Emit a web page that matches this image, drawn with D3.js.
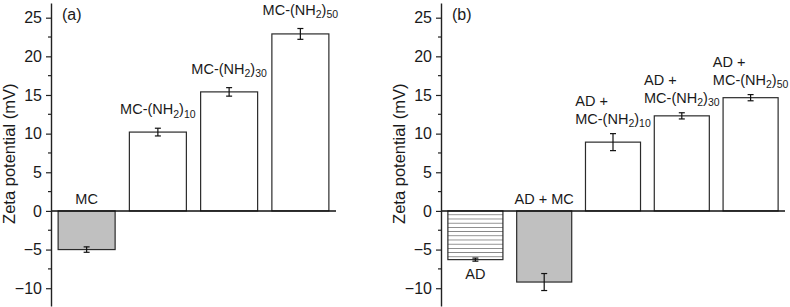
<!DOCTYPE html>
<html>
<head>
<meta charset="utf-8">
<script src="https://cdn.jsdelivr.net/npm/d3@7"></script>
<style>
  body { margin: 0; background: #fff; }
  text { font-family: Arial, "Liberation Sans", sans-serif; fill: #1a1a1a; }
</style>
</head>
<body>
<svg id="chart" width="790" height="307"></svg>
<script>
// Data. {x} marks a subscript.
const categoriesA = ["MC", "MC-(NH{2}){10}", "MC-(NH{2}){30}", "MC-(NH{2}){50}"];
const valuesA = [-5.0, 10.2, 15.4, 22.9];
const errorsA = [0.35, 0.5, 0.55, 0.7];

const categoriesB = ["AD", "AD + MC", "AD +|MC-(NH{2}){10}", "AD +|MC-(NH{2}){30}", "AD +|MC-(NH{2}){50}"];
const valuesB = [-6.3, -9.2, 8.9, 12.3, 14.65];
const errorsB = [0.2, 1.1, 1.1, 0.4, 0.4];

const yTicks = [-10, -5, 0, 5, 10, 15, 20, 25];
const yMinorTicks = [-7.5, -2.5, 2.5, 7.5, 12.5, 17.5, 22.5];

const svg = d3.select("#chart");

// hatch pattern for the AD bar
svg.append("defs").append("pattern")
    .attr("id", "hatch")
    .attr("patternUnits", "userSpaceOnUse")
    .attr("width", 8)
    .attr("height", 4.2)
    .attr("y", 211)
    .call(p => {
        p.append("rect").attr("width", 8).attr("height", 4.2).attr("fill", "#fff");
        p.append("line").attr("x1", 0).attr("x2", 8).attr("y1", 4.2).attr("y2", 4.2)
            .attr("stroke", "#222").attr("stroke-width", 1);
    });

const y = d3.scaleLinear().domain([-12.3, 26.9]).range([306, 3]);

// writes a label, turning {..} parts into subscripts
function addLabel(g, str, x, yBase, anchor) {
    const t = g.append("text")
        .attr("x", x)
        .attr("y", yBase)
        .attr("text-anchor", anchor)
        .style("font-size", "14.5px");
    let shifted = false;
    str.split(/(\{[^}]*\})/).filter(s => s).forEach(part => {
        if (part.startsWith("{")) {
            t.append("tspan").attr("dy", shifted ? 0 : 3.5)
                .style("font-size", "10.5px").text(part.slice(1, -1));
            shifted = true;
        } else {
            t.append("tspan").attr("dy", shifted ? -3.5 : 0).text(part);
            shifted = false;
        }
    });
    return t;
}

function drawPanel(opts) {
    const { left, right, cats, vals, errs, fills, sides, tag } = opts;
    const g = svg.append("g");

    const x = d3.scaleBand()
        .domain(cats)
        .range([left, right])
        .paddingInner(0.2)
        .paddingOuter(0.1);

    // bars
    g.selectAll("rect.bar")
        .data(vals)
        .join("rect")
        .attr("class", "bar")
        .attr("x", (d, i) => x(cats[i]))
        .attr("width", x.bandwidth())
        .attr("y", d => y(Math.max(0, d)))
        .attr("height", d => Math.abs(y(d) - y(0)))
        .attr("fill", (d, i) => fills[i])
        .attr("stroke", "#2b2b2b")
        .attr("stroke-width", 1.2);

    // error bars
    vals.forEach((d, i) => {
        const cx = x(cats[i]) + x.bandwidth() / 2;
        const eb = g.append("g").attr("stroke", "#111").attr("stroke-width", 1.2);
        eb.append("line").attr("x1", cx).attr("x2", cx)
            .attr("y1", y(d + errs[i])).attr("y2", y(d - errs[i]));
        [d + errs[i], d - errs[i]].forEach(v => {
            eb.append("line").attr("x1", cx - 3).attr("x2", cx + 3)
                .attr("y1", y(v)).attr("y2", y(v));
        });
    });

    // zero line
    g.append("line")
        .attr("x1", left).attr("x2", right)
        .attr("y1", y(0)).attr("y2", y(0))
        .attr("stroke", "#111").attr("stroke-width", 1.4);

    // y axis
    const ax = g.append("g")
        .attr("transform", `translate(${left},0)`)
        .call(d3.axisLeft(y).tickValues(yTicks).tickSize(5).tickSizeOuter(0).tickPadding(4));
    ax.select(".domain").attr("stroke", "#222").attr("stroke-width", 1.4);
    ax.selectAll(".tick line").attr("stroke", "#222").attr("stroke-width", 1.2);
    ax.selectAll(".tick text").style("font-size", "16px").style("font-family", "Arial, 'Liberation Sans', sans-serif").attr("fill", "#1a1a1a");
    ax.selectAll(".minor")
        .data(yMinorTicks)
        .join("line")
        .attr("class", "minor")
        .attr("x1", -3).attr("x2", 0)
        .attr("y1", d => y(d)).attr("y2", d => y(d))
        .attr("stroke", "#222").attr("stroke-width", 1.2);

    // axis title
    g.append("text")
        .attr("transform", `translate(${left - 36},${y(7.4)}) rotate(-90)`)
        .attr("text-anchor", "middle")
        .style("font-size", "16.5px")
        .text("Zeta potential (mV)");

    // panel tag
    g.append("text")
        .attr("x", left + 11)
        .attr("y", 20)
        .style("font-size", "16px")
        .text(tag);

    // bar labels
    cats.forEach((c, i) => {
        const cx = x(c) + x.bandwidth() / 2;
        const lines = c.split("|");
        const v = vals[i];
        if (sides[i] === "below") {
            addLabel(g, lines[0], cx, y(v - errs[i]) + 18, "middle");
        } else if (v < 0) {
            addLabel(g, lines[0], cx, y(0) - 7, "middle");
        } else if (lines.length === 1) {
            addLabel(g, lines[0], cx, y(v + errs[i]) - 14, "middle");
        } else {
            const base = y(v + errs[i]) - 10;
            const second = addLabel(g, lines[1], cx, base, "start");
            const w = second.node().getComputedTextLength();
            const sx = cx - w / 2;
            second.attr("x", sx);
            addLabel(g, lines[0], sx, base - 18, "start");
        }
    });
}

drawPanel({
    left: 51, right: 336,
    cats: categoriesA, vals: valuesA, errs: errorsA,
    fills: ["#c0c0c0", "#fff", "#fff", "#fff"],
    sides: ["above", "above", "above", "above"],
    tag: "(a)"
});

drawPanel({
    left: 441, right: 785,
    cats: categoriesB, vals: valuesB, errs: errorsB,
    fills: ["url(#hatch)", "#c0c0c0", "#fff", "#fff", "#fff"],
    sides: ["below", "above", "above", "above", "above"],
    tag: "(b)"
});
</script>
</body>
</html>
